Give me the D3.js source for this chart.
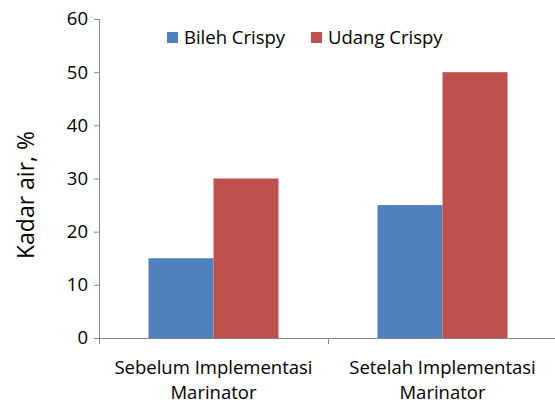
<!DOCTYPE html>
<html><head><meta charset="utf-8">
<script src="https://cdn.jsdelivr.net/npm/d3@7"></script>
<style>body{margin:0;background:#fff}svg{display:block}text{font-family:"Open Sans","Noto Sans",sans-serif;fill:#000}</style>
</head><body><svg id="c" width="555" height="403"></svg>
<script>
const categories = [["Sebelum Implementasi","Marinator"],["Setelah Implementasi","Marinator"]];
const series = ["Bileh Crispy","Udang Crispy"];
const bilehValues = [15, 25];
const udangValues = [30, 50];
const yTicks = [0,10,20,30,40,50,60];
const colors = ["#4F81BD","#C0504D"];

const svg = d3.select("#c");
const catKeys = categories.map(c=>c.join(" "));
const x0 = d3.scaleBand().domain(catKeys).range([99,557]).padding(0);
const x1 = d3.scaleBand().domain(series).range([0,x0.bandwidth()]).paddingInner(0).paddingOuter(0.762);
const y = d3.scaleLinear().domain([0,60]).range([338,19]);
const values = [bilehValues, udangValues];

// bars
catKeys.forEach((k,i)=>{
  series.forEach((s,j)=>{
    svg.append("rect").attr("x",x0(k)+x1(s)).attr("width",x1.bandwidth())
      .attr("y",y(values[j][i])).attr("height",y(0)-y(values[j][i])).attr("fill",colors[j]);
  });
});

const axisColor="#868686";
const fs = 18.5;
// y axis
const ya = svg.append("g").attr("transform","translate(99,0)")
  .call(d3.axisLeft(y).tickValues(yTicks).tickSize(5).tickPadding(6));
ya.select(".domain").attr("stroke",axisColor);
ya.selectAll(".tick line").attr("stroke",axisColor);
ya.selectAll(".tick text").attr("font-size",fs).attr("font-family","'Open Sans',sans-serif").attr("fill","#000");

// x axis
const xa = svg.append("g").attr("transform","translate(0,338)");
xa.append("line").attr("x1",94).attr("x2",557).attr("y1",0.5).attr("y2",0.5).attr("stroke",axisColor);
[x0.range()[0]].concat(catKeys.map(k=>x0(k)+x0.bandwidth())).forEach(v=>{
  xa.append("line").attr("x1",Math.round(v)+0.5).attr("x2",Math.round(v)+0.5).attr("y1",0).attr("y2",6).attr("stroke",axisColor);
});
categories.forEach((c,i)=>{
  const cx = x0(catKeys[i])+x0.bandwidth()/2;
  const t = svg.append("text").attr("text-anchor","middle").attr("font-size",fs);
  c.forEach((line,li)=>t.append("tspan").attr("x",cx).attr("y",374+li*25).text(line));
});

// y label
svg.append("text").attr("transform","translate(34,195) rotate(-90)").attr("text-anchor","middle").attr("font-size",23).text("Kadar air, %");

// legend
const legX=[167,311];
series.forEach((s,j)=>{
  svg.append("rect").attr("x",legX[j]).attr("y",32).attr("width",11).attr("height",11).attr("fill",colors[j]);
  svg.append("text").attr("x",legX[j]+17).attr("y",44).attr("font-size",fs).text(s);
});
</script></body></html>
